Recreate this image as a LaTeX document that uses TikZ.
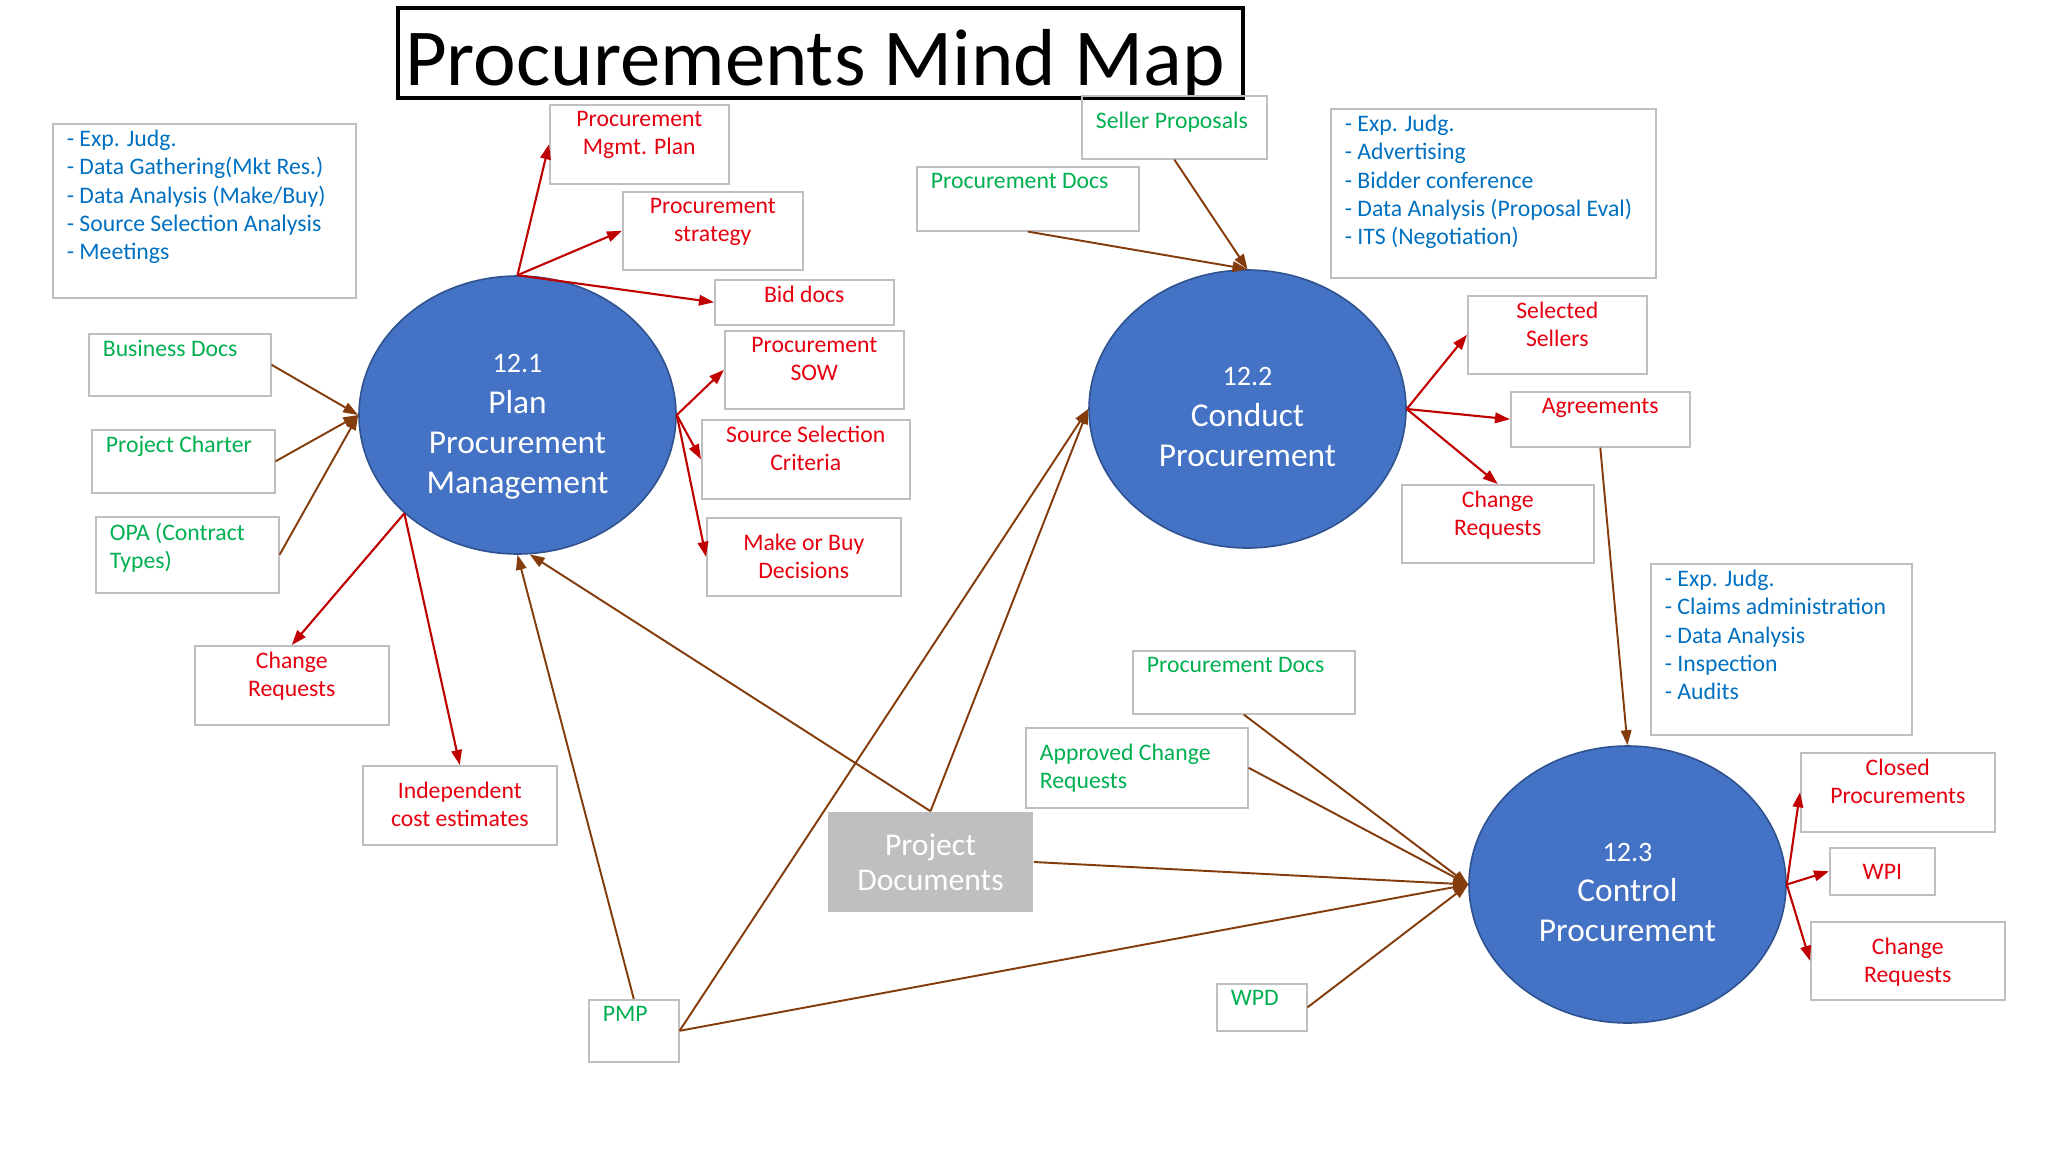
\documentclass[tikz,border=0pt]{standalone}
\usepackage{fontspec}
\setmainfont{Carlito}
\usepackage{tikz}
\usetikzlibrary{shapes,arrows.meta,positioning}

\definecolor{procblue}{HTML}{4472C4}
\definecolor{procedge}{HTML}{2F528F}
\definecolor{boxgray}{HTML}{BFBFBF}
\definecolor{txtred}{HTML}{E6000F}
\definecolor{arrred}{HTML}{C00000}
\definecolor{txtgreen}{HTML}{00B050}
\definecolor{txtblue}{HTML}{0070C0}
\definecolor{arrbrown}{HTML}{843C0C}

\begin{document}
\begin{tikzpicture}[x=0.02cm, y=-0.02cm,
        wh/.style 2 args={minimum width=#1*0.02cm, minimum height=#2*0.02cm},
        box/.style={rectangle, draw=boxgray, line width=0.9pt, anchor=north west, inner sep=0pt},
        process/.style={ellipse, draw=procedge, line width=0.9pt, fill=procblue},
        proctext/.style={text=white, align=center, font=\fontsize{19}{23}\selectfont},
        ctext/.style={anchor=north, align=center, inner xsep=0pt, inner ysep=0.14cm, font=\fontsize{13.5}{16}\selectfont},
        ltext/.style={anchor=north west, align=left, inner xsep=0.29cm, inner ysep=0.14cm, font=\fontsize{13.5}{16}\selectfont},
        outbox/.style={box, label={[ctext, text=txtred]north:#1}},
        outboxlow/.style={box, label={[ctext, text=txtred, yshift=-0.2cm]north:#1}},
        inbox/.style={box, label={[ltext, text=txtgreen]north west:#1}},
        inboxlow/.style={box, label={[ltext, text=txtgreen, yshift=-0.19cm]north west:#1}},
        toolbox/.style={box, label={[ltext, text=txtblue]north west:#1}},
        inline/.style={draw=arrbrown, line width=1.1pt, -{Triangle[length=0.3cm, width=0.21cm]}},
        outline/.style={draw=arrred, line width=1.2pt, -{Triangle[length=0.3cm, width=0.21cm]}}
    ]
        \path[use as bounding box, fill=white] (0,0) rectangle (2048,1152);
        % Title
        \node[box, draw=black, line width=2.2pt, wh={845}{90}] (frame) at (396,6) {};
        \node[anchor=base, font=\fontsize{46}{50}\selectfont] (title) at (815,86) {Procurements Mind Map};
        % Process nodes
        \node[process, wh={317}{278}] (plan) at (517.5,415) {};
        \node[proctext] (plan_text) at ([yshift=-0.24cm]plan.center) {{\fontsize{16}{23}\selectfont 12.1}\\Plan\\Procurement\\Management};
        \node[process, wh={317}{278}] (conduct) at (1247.5,409) {};
        \node[proctext] (conduct_text) at ([yshift=-0.16cm]conduct.center) {{\fontsize{16}{23}\selectfont 12.2}\\Conduct\\Procurement};
        \node[process, wh={317}{277}] (control) at (1627.5,884.5) {};
        \node[proctext] (control_text) at ([yshift=-0.16cm]control.center) {{\fontsize{16}{23}\selectfont 12.3}\\Control\\Procurement};
        % 12.1 Plan
        \node[toolbox={- Exp. Judg.\\- Data Gathering(Mkt Res.)\\- Data Analysis (Make/Buy)\\- Source Selection Analysis\\- Meetings}, wh={303}{174}] (plan_tools) at (52,123) {};
        \node[inbox={Business Docs}, wh={182}{62}] (business_docs) at (88,333) {};
        \node[inbox={Project Charter}, wh={183}{63}] (charter) at (91,429) {};
        \node[inbox={OPA (Contract\\Types)}, wh={183}{76}] (opa) at (95,516) {};
        \node[outbox={Procurement\\Mgmt. Plan}, wh={179}{79}] (mgmt_plan) at (549,104) {};
        \node[outbox={Procurement\\strategy}, wh={180}{78}] (strategy) at (622,191) {};
        \node[outbox={Bid docs}, wh={179}{45}] (bid_docs) at (714,279) {};
        \node[outbox={Procurement\\SOW}, wh={179}{78}] (sow) at (724,330) {};
        \node[outbox={Source Selection\\Criteria}, wh={208}{79}] (criteria) at (701,419) {};
        \node[outboxlow={Make or Buy\\Decisions}, wh={194}{78}] (make_buy) at (706,517) {};
        \node[outbox={Change\\Requests}, wh={194}{79}] (plan_cr) at (194,645) {};
        \node[outboxlow={Independent\\cost estimates}, wh={194}{79}] (estimates) at (362,765) {};
        % Shared inputs
        \node[inbox={PMP}, wh={90}{62}] (pmp) at (588,999) {};
        \node[box, draw=none, fill=boxgray, text=white, anchor=center, align=center, wh={205}{100},
            font=\fontsize{18}{20}\selectfont] (project_docs) at (930.5,862) {Project\\Documents};
        % 12.2 Conduct
        \node[inboxlow={Seller Proposals}, wh={185}{63}] (proposals) at (1081,95) {};
        \node[inbox={Procurement Docs}, wh={222}{64}] (conduct_docs) at (916,166) {};
        \node[toolbox={- Exp. Judg.\\- Advertising\\- Bidder conference\\- Data Analysis (Proposal Eval)\\- ITS (Negotiation)}, wh={325}{169}] (conduct_tools) at (1330,108) {};
        \node[outbox={Selected\\Sellers}, wh={179}{78}] (sellers) at (1467,295) {};
        \node[outbox={Agreements}, wh={179}{55}] (agreements) at (1510,391) {};
        \node[outbox={Change\\Requests}, wh={192}{78}] (conduct_cr) at (1401,484) {};
        % 12.3 Control
        \node[toolbox={- Exp. Judg.\\- Claims administration\\- Data Analysis\\- Inspection\\- Audits}, wh={261}{171}] (control_tools) at (1650,563) {};
        \node[inbox={Procurement Docs}, wh={222}{63}] (control_docs) at (1132,650) {};
        \node[inboxlow={Approved Change\\Requests}, wh={222}{80}] (approved_cr) at (1025,727) {};
        \node[inbox={WPD}, wh={90}{47}] (wpd) at (1216,983) {};
        \node[outbox={Closed\\Procurements}, wh={194}{79}] (closed) at (1800,752) {};
        \node[outboxlow={WPI}, wh={105}{47}] (wpi) at (1829,847) {};
        \node[outboxlow={Change\\Requests}, wh={194}{78}] (control_cr) at (1810,921) {};
        % Connections
        \path[inline] (business_docs.east) -- (plan.west);
        \path[inline] (charter.east) -- (plan.west);
        \path[inline] (opa.east) -- (plan.west);
        \path[inline] (pmp.north) -- (plan.south);
        \path[inline] (project_docs.north) -- (plan.275);
        \path[outline] (plan.north) -- (mgmt_plan.west);
        \path[outline] (plan.north) -- (strategy.west);
        \path[outline] (plan.north) -- (bid_docs.west);
        \path[outline] (plan.east) -- (sow.west);
        \path[outline] (plan.east) -- (criteria.west);
        \path[outline] (plan.east) -- (make_buy.west);
        \path[outline] (plan.221) -- (plan_cr.north);
        \path[outline] (plan.221) -- (estimates.north);
        \path[inline] (proposals.south) -- (conduct.north);
        \path[inline] (conduct_docs.south) -- (conduct.north);
        \path[inline] (project_docs.north) -- (conduct.west);
        \path[inline] (pmp.east) -- (conduct.west);
        \path[outline] (conduct.east) -- (sellers.west);
        \path[outline] (conduct.east) -- (agreements.west);
        \path[outline] (conduct.east) -- (conduct_cr.north);
        \path[inline] (agreements.south) -- (control.north);
        \path[inline] (control_docs.south) -- (control.west);
        \path[inline] (approved_cr.east) -- (control.west);
        \path[inline] (project_docs.east) -- (control.west);
        \path[inline] (pmp.east) -- (control.west);
        \path[inline] (wpd.east) -- (control.west);
        \path[outline] (control.east) -- (closed.west);
        \path[outline] (control.east) -- (wpi.west);
        \path[outline] (control.east) -- (control_cr.west);
\end{tikzpicture}
\end{document}
